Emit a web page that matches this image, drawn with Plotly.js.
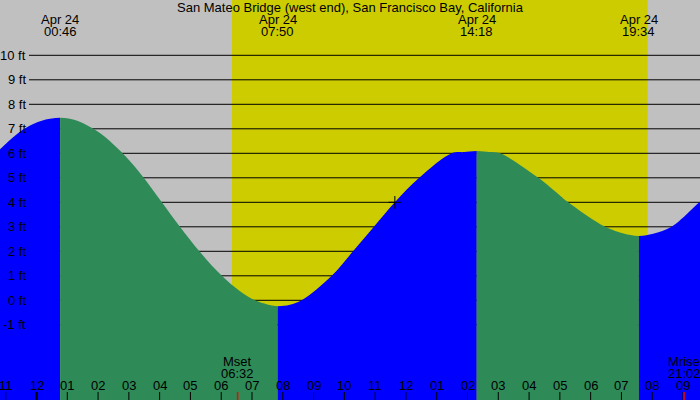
<!DOCTYPE html>
<html>
<head>
<meta charset="utf-8">
<script src="https://cdn.plot.ly/plotly-3.0.1.min.js"></script>
<style>html,body{margin:0;padding:0;background:#c0c0c0;}#chart{width:700px;height:400px;}</style>
</head>
<body>
<div id="chart"></div>
<script>
// ---- data (hours from midnight Apr 24, heights in ft) ----
const chartTitle = "San Mateo Bridge (west end), San Francisco Bay, California";
const tideTime   = [-1.186, -0.70, -0.21, 0.30, 0.767, 1.25, 2.06, 2.70, 3.36, 4.07, 4.66, 5.29, 6.02, 6.60, 7.10, 7.50, 7.833, 8.20, 8.61, 9.59, 10.28, 10.96, 11.64, 12.43, 13.49, 13.90, 14.30, 14.70, 15.06, 16.30, 17.00, 17.27, 18.47, 19.10, 19.567, 20.00, 20.63, 21.53, 21.56];
const tideHeight = [6.16, 6.72, 7.13, 7.38, 7.45, 7.36, 6.83, 6.12, 5.20, 4.00, 3.00, 2.00, 1.00, 0.38, 0.00, -0.17, -0.24, -0.19, 0.00, 1.00, 2.00, 3.00, 4.00, 5.00, 6.00, 6.05, 6.09, 6.05, 6.00, 5.00, 4.28, 4.00, 3.00, 2.72, 2.62, 2.71, 3.00, 4.00, 4.02];
const eventTimes = [0.767, 7.833, 14.30, 19.567];
const eventDates = ["Apr 24", "Apr 24", "Apr 24", "Apr 24"];
const eventClock = ["00:46", "07:50", "14:18", "19:34"];
const sunrise = 6.35, sunset = 19.85;
const moonTimes  = [6.533, 21.033];
const moonNames  = ["Mset", "Mrise"];
const moonClock  = ["06:32", "21:02"];
const hourTicks  = [-1,0,1,2,3,4,5,6,7,8,9,10,11,12,13,14,15,16,17,18,19,20,21];
const hourLabels = ["11","12","01","02","03","04","05","06","07","08","09","10","11","12","01","02","03","04","05","06","07","08","09"];
const ftLevels   = [-1,0,1,2,3,4,5,6,7,8,9,10];
const nowTime = [11.64], nowHeight = [4.0];

// ---- styling ----
const W = 700, H = 400;
const FONT = "Liberation Sans, Arial, Helvetica, sans-serif";
const FS = 13;
const GREY = "#c0c0c0", YELLOW = "#cccc00", BLUE = "#0000ff", GREEN = "#2e8b57";
const xRange = [-1.1856, 21.552];
const yRange = [-4.069, 12.257];
const py = p => 1 - p / H; // pixel y -> paper y

// split tide curve into rising (blue) / falling (green) segments at extremes
const bounds = [tideTime[0], ...eventTimes, tideTime[tideTime.length - 1]];
const traces = [];
for (let s = 0; s < bounds.length - 1; s++) {
  const a = bounds[s], b = bounds[s + 1];
  const xs = [], ys = [];
  tideTime.forEach((t, i) => { if (t >= a - 1e-9 && t <= b + 1e-9) { xs.push(t); ys.push(tideHeight[i]); } });
  const rising = ys[ys.length - 1] > ys[0];
  const col = rising ? BLUE : GREEN;
  traces.push({x: [xs[0], xs[xs.length - 1]], y: [-10, -10], mode: "lines", line: {width: 0, color: col}, hoverinfo: "skip", showlegend: false});
  traces.push({x: xs, y: ys, mode: "lines", line: {width: 0, color: col, shape: "spline", smoothing: 1}, fill: "tonexty", fillcolor: col, hoverinfo: "skip", showlegend: false});
}
traces.push({x: nowTime, y: nowHeight, mode: "markers", marker: {symbol: "cross-thin", size: 9, line: {width: 1, color: "#000"}}, hoverinfo: "skip", showlegend: false});

const shapes = [];
shapes.push({type: "rect", layer: "below", xref: "x", yref: "paper", x0: sunrise, x1: sunset, y0: 0, y1: 1, fillcolor: YELLOW, line: {width: 0}});
ftLevels.forEach(v => shapes.push({type: "line", layer: "below", xref: "paper", yref: "y", x0: 29 / W, x1: 1, y0: v, y1: v, line: {color: "#000", width: 1}}));
hourTicks.forEach(h => shapes.push({type: "line", xref: "x", yref: "paper", x0: h, x1: h, y0: 0, y1: py(392), line: {color: "#000", width: h === 0 ? 2.4 : 1}}));
moonTimes.forEach(t => shapes.push({type: "line", xref: "x", yref: "paper", x0: t, x1: t, y0: 0, y1: py(392), line: {color: "#ff0000", width: 1.5}}));

const ann = [];
const txt = (x, xref, y, text, xanchor) => ({x, xref, y: py(y), yref: "paper", text, showarrow: false, xanchor: xanchor || "center", yanchor: "middle", borderpad: 0, font: {family: FONT, size: FS, color: "#000"}});
ann.push(txt(0.5, "paper", 7.5, chartTitle));
eventTimes.forEach((t, i) => { ann.push(txt(t, "x", 19.5, eventDates[i])); ann.push(txt(t, "x", 31.5, eventClock[i])); });
moonTimes.forEach((t, i) => { ann.push(txt(t, "x", 361, moonNames[i])); ann.push(txt(t, "x", 373.5, moonClock[i])); });
hourTicks.forEach((h, i) => ann.push(txt(h, "x", 385, hourLabels[i])));
ftLevels.forEach(v => {
  const yp = 300.3 - 24.5 * v;
  ann.push(txt(27 / W, "paper", yp, v + " ft", "right"));
});

const layout = {
  width: W, height: H,
  margin: {l: 0, r: 0, t: 0, b: 0, pad: 0},
  paper_bgcolor: GREY, plot_bgcolor: GREY,
  xaxis: {range: xRange, visible: false, fixedrange: true},
  yaxis: {range: yRange, visible: false, fixedrange: true},
  shapes, annotations: ann, showlegend: false,
  font: {family: FONT, size: FS, color: "#000"}
};
Plotly.newPlot("chart", traces, layout, {displayModeBar: false, staticPlot: true});
</script>
</body>
</html>
